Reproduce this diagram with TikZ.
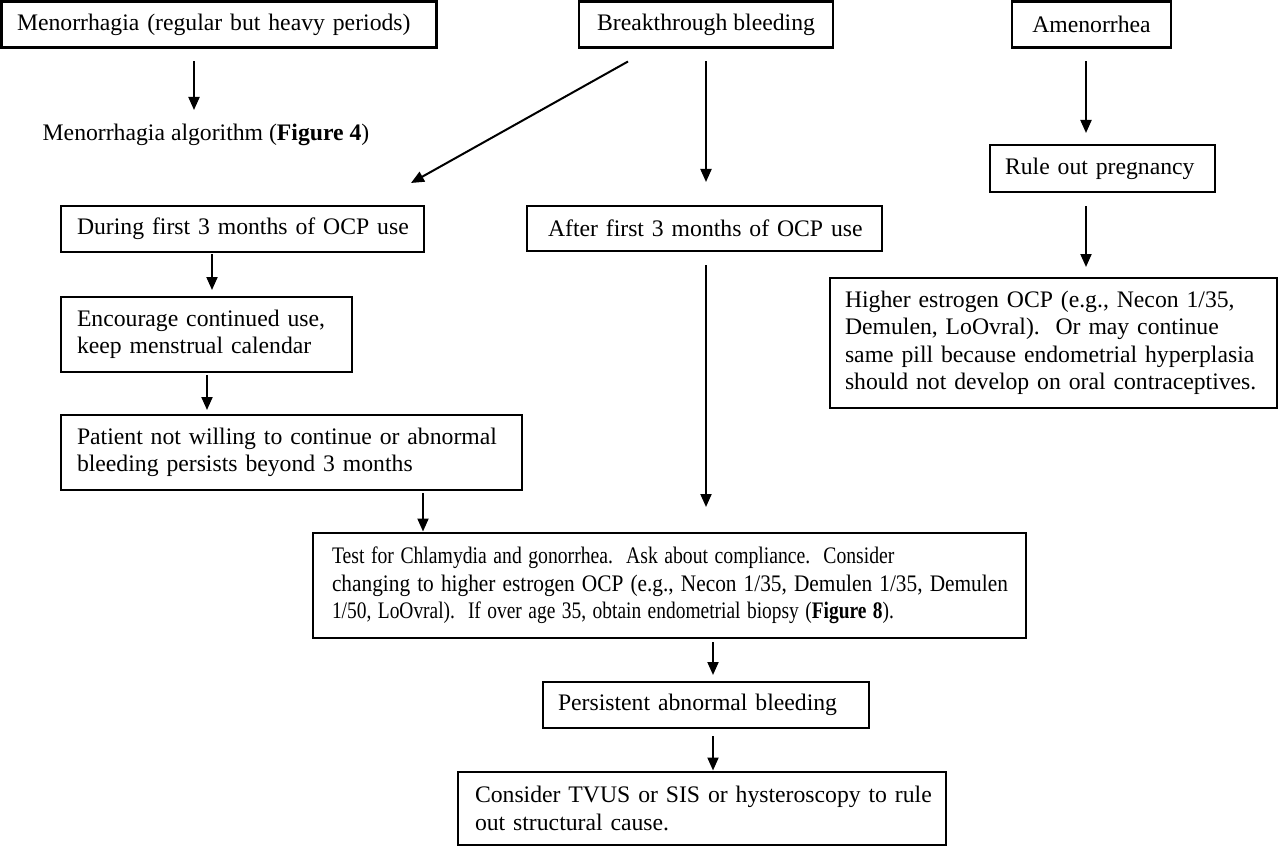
\documentclass[tikz,border=0pt]{standalone}
\usepackage{fontspec}
\setmainfont{Liberation Serif}
\usetikzlibrary{arrows.meta,calc}
\begin{document}
\begin{tikzpicture}[x=1pt,y=-1pt,
  box/.style={draw, line width=2.8pt, outer sep=0pt, inner ysep=0pt, anchor=north west, align=left, font=\fontsize{23.7}{27.5}\selectfont},
  cbox/.style={box, align=center},
  plain/.style={inner sep=0pt, outer sep=0pt, font=\fontsize{23.7}{27.5}\selectfont},
  arr/.style={line width=2pt, -{Triangle[length=13pt,width=11pt]}}]
\useasboundingbox (0,0) rectangle (1280,848);

% top row
\node[box, inner xsep=15.5pt, text width=404pt, minimum height=46pt] (B1) at (1.5,1.5) {\mbox{Menorrhagia (regular but heavy periods)}};
\node[cbox, minimum width=254pt, minimum height=46pt] (B2) at (579,1.5) {Breakthrough bleeding};
\node[cbox, minimum width=159pt, minimum height=46pt] (B3) at (1012,1.5) {Amenorrhea};

\node[plain, minimum height=24pt] (fig4) at (206,135) {Menorrhagia algorithm (\textbf{Figure 4})};

% second level
\node[box, inner xsep=16pt, text width=331pt, minimum height=46pt] (B5) at (61,206) {\mbox{During first 3 months of OCP use}};
\node[box, inner xsep=21pt, text width=313pt, minimum height=45pt] (B6) at (527,206) {\mbox{After first 3 months of OCP use}};
\node[box, inner xsep=15pt, text width=195pt, minimum height=47pt] (B7) at (990,145) {\mbox{Rule out pregnancy}};
\node[box, inner xsep=15pt, text width=417pt, minimum height=130pt] (B8) at (830,278) {\mbox{Higher estrogen OCP (e.g., Necon 1/35,}\\ \mbox{Demulen, LoOvral).\ \ Or may continue}\\ \mbox{same pill because endometrial hyperplasia}\\ \mbox{should not develop on oral contraceptives.}};

\node[box, inner xsep=16pt, text width=259pt, minimum height=75pt] (B9) at (61,297) {\mbox{Encourage continued use,}\\ \mbox{keep menstrual calendar}};
\node[box, inner xsep=16pt, text width=429pt, minimum height=75pt] (B10) at (61,415) {\mbox{Patient not willing to continue or abnormal}\\ \mbox{bleeding persists beyond 3 months}};

\node[box, inner xsep=19pt, text width=675pt, minimum height=105pt] (B11) at (313,533) {\scalebox{0.83}[1]{Test for Chlamydia and gonorrhea.\ \ Ask about compliance.\ \ Consider}\\ \scalebox{0.9}[1]{changing to higher estrogen OCP (e.g., Necon 1/35, Demulen 1/35, Demulen}\\ \scalebox{0.82}[1]{1/50, LoOvral).\ \ If over age 35, obtain endometrial biopsy (\textbf{Figure 8}).}};

\node[box, inner xsep=15pt, text width=296pt, minimum height=46pt] (B12) at (543,682) {\mbox{Persistent abnormal bleeding}};
\node[box, inner xsep=17pt, text width=454pt, minimum height=73pt] (B13) at (458,772) {\mbox{Consider TVUS or SIS or hysteroscopy to rule}\\ \mbox{out structural cause.}};

% x positions of the vertical connectors
\coordinate (x194) at (194,0);
\coordinate (x706) at (706,0);
\coordinate (x1086) at (1086,0);
\coordinate (x212) at (212,0);
\coordinate (x207) at (207,0);
\coordinate (x423) at (423,0);
\coordinate (x713) at (713,0);

% connectors
\draw[arr, shorten <=14pt, shorten >=13pt] (B1.south -| x194) -- (fig4.north -| x194);
\draw[arr] ($(B2.south west)+(49,14)$) -- ($(B5.north east)+(-13,-23)$);
\draw[arr, shorten <=14pt, shorten >=24pt] (B2.south -| x706) -- (B6.north -| x706);
\draw[arr, shorten <=14pt, shorten >=12pt] (B3.south -| x1086) -- (B7.north -| x1086);
\draw[arr, shorten <=14pt, shorten >=11pt] (B7.south -| x1086) -- (B8.north -| x1086);
\draw[arr, shorten <=2pt, shorten >=7pt] (B5.south -| x212) -- (B9.north -| x212);
\draw[arr, shorten <=3pt, shorten >=5pt] (B9.south -| x207) -- (B10.north -| x207);
\draw[arr, shorten <=3pt, shorten >=1.5pt] (B10.south -| x423) -- (B11.north -| x423);
\draw[arr, shorten <=14pt, shorten >=26pt] (B6.south -| x706) -- (B11.north -| x706);
\draw[arr, shorten <=4pt, shorten >=7pt] (B11.south -| x713) -- (B12.north -| x713);
\draw[arr, shorten <=8pt, shorten >=1.5pt] (B12.south -| x713) -- (B13.north -| x713);
\end{tikzpicture}
\end{document}
